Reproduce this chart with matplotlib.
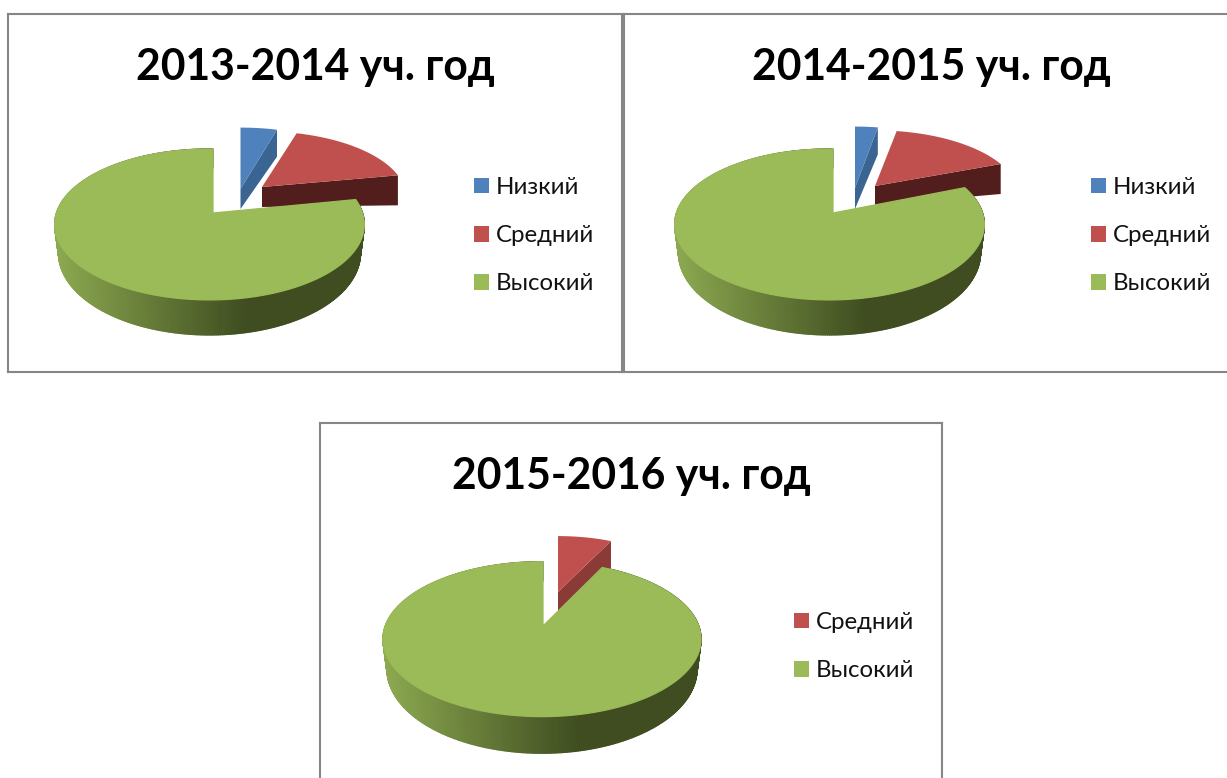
import numpy as np
import matplotlib
matplotlib.use("Agg")
import matplotlib.pyplot as plt
from matplotlib.patches import Polygon, Patch
from matplotlib.collections import PolyCollection
from matplotlib.colors import to_rgb

plt.rcParams['font.family'] = ['Lato', 'Open Sans', 'DejaVu Sans']

# ---------- data ----------
titles = ["2013-2014 уч. год", "2014-2015 уч. год", "2015-2016 уч. год"]
labels_2013 = ["Низкий", "Средний", "Высокий"]
values_2013 = [4.5, 17.5, 78.0]
labels_2014 = ["Низкий", "Средний", "Высокий"]
values_2014 = [2.8, 16.3, 80.9]
labels_2015 = ["Средний", "Высокий"]
values_2015 = [7.3, 92.7]

# ---------- style ----------
COLORS = {"Низкий": "#4f81bd", "Средний": "#c0504d", "Высокий": "#9bbb59"}
FACE = {"Низкий": "#3a6593", "Средний": "#521e1d", "Высокий": "#6b8a3b"}
FRAME = "#868686"
WALL_L = np.array(to_rgb("#8ca950"))
WALL_D = np.array(to_rgb("#3f4d20"))
W, H = 1227, 778

# panel box (left, top, right, bottom) in pixels; geometry of each exploded slice
panels = [
    dict(box=(8, 14, 622, 372), title=titles[0], labels=labels_2013, values=values_2013,
         R=153, Rq=73.7, k=0.152, h0=27, h1=8, shift=-3.5,
         apex={"Низкий": (240.5, 189), "Средний": (262, 187), "Высокий": (213, 213)},
         face={"Низкий": (20, 27), "Средний": (20, 30)},
         scale={"Низкий": (0.98, 0.96), "Средний": (0.93, 0.87), "Высокий": (1, 1)},
         legend=(474, 186)),
    dict(box=(624, 14, 1238, 372), title=titles[1], labels=labels_2014, values=values_2014,
         R=153, Rq=73.7, k=0.152, h0=27, h1=8, shift=-3.5,
         apex={"Низкий": (855, 188), "Средний": (875, 186), "Высокий": (833, 213)},
         face={"Низкий": (21, 27), "Средний": (19, 30)},
         scale={"Низкий": (0.98, 0.96), "Средний": (0.93, 0.87), "Высокий": (1, 1)},
         legend=(1091, 186)),
    dict(box=(320, 423, 942, 781), title=titles[2], labels=labels_2015, values=values_2015,
         R=156.7, Rq=75.2, k=0.17, h0=28, h1=8.6, shift=-1.0,
         apex={"Средний": (558, 592), "Высокий": (543, 626)},
         face={"Средний": (19, 27)},
         scale={"Средний": (0.88, 0.87), "Высокий": (1, 1)},
         legend=(794, 621)),
]
FACE3 = "#8a3a37"


def rim(theta, apex, p, sx=1.0, sy=1.0, dx=0.0):
    t = np.radians(theta)
    u, v = np.sin(t), np.cos(t)
    d = 1 + p["k"] * v
    return apex[0] + dx + sx * p["R"] * u / d, apex[1] - sy * p["Rq"] * v / d


fig = plt.figure(figsize=(W / 100, H / 100), dpi=100, facecolor="white")

for idx, p in enumerate(panels):
    l, t, r, b = p["box"]
    ax = fig.add_axes([l / W, 1 - b / H, (r - l) / W, (b - t) / H])
    ax.set_xlim(l, r)
    ax.set_ylim(b, t)
    ax.set_xticks([])
    ax.set_yticks([])
    for s in ax.spines.values():
        s.set_color(FRAME)
        s.set_linewidth(1.5)
    ax.set_title(p["title"], fontsize=30.7, fontweight="bold", y=1 - 61 / 358,
                 va="center", color="black")

    total = sum(p["values"])
    edges = np.concatenate([[0], np.cumsum(p["values"])]) / total * 360
    handles = []
    for name, v0, v1 in zip(p["labels"], edges[:-1], edges[1:]):
        col = COLORS[name]
        handles.append(Patch(facecolor=col, edgecolor="none", label=name))
        apex = p["apex"][name]
        sx, sy = p["scale"][name]
        if name == "Высокий":
            # the last slice ends straight above its apex on the shifted rim
            over = np.degrees(np.arcsin(-p["shift"] * (1 + p["k"]) / p["R"]))
            th = np.linspace(v0, v1 + over, 480)
            x, y = rim(th, apex, p, dx=p["shift"])
            c = np.cos(np.radians(th))
            xb, _ = rim(th, apex, p, sx=0.975, dx=p["shift"])
            yb = y + p["h0"] - p["h1"] * c
            quads, cols = [], []
            xmin, xmax = x.min(), x.max()
            for i in range(len(th) - 1):
                quads.append([(x[i], y[i]), (x[i + 1], y[i + 1]),
                              (xb[i + 1], yb[i + 1]), (xb[i], yb[i])])
                f = min(((x[i] - xmin) / (xmax - xmin)) / 0.62, 1.0)
                cols.append(tuple(WALL_L + (WALL_D - WALL_L) * f))
            ax.add_collection(PolyCollection(quads, facecolors=cols, edgecolors=cols,
                                             linewidths=1.0, zorder=3))
            zt, edge, lw = 4, col, 0.9
        else:
            th = np.linspace(v0, v1, 240)
            x, y = rim(th, apex, p, sx=sx, sy=sy)
            h_a, h_r = p["face"][name]
            fc = FACE3 if idx == 2 else FACE[name]
            ax.add_patch(Polygon([apex, (x[-1], y[-1]), (x[-1], y[-1] + h_r),
                                  (apex[0], apex[1] + h_a)],
                                 closed=True, facecolor=fc, edgecolor="none", zorder=2))
            zt, edge, lw = 2.5, "none", 0
        ax.add_patch(Polygon(np.column_stack([np.r_[apex[0], x], np.r_[apex[1], y]]),
                             closed=True, facecolor=col, edgecolor=edge, linewidth=lw, zorder=zt))

    lx, ly = p["legend"]
    leg = ax.legend(handles=handles, loc="upper left", bbox_to_anchor=(lx, ly - 9),
                    bbox_transform=ax.transData, frameon=False, fontsize=17.3,
                    borderpad=0, borderaxespad=0, handlelength=0.63, handleheight=0.63,
                    handletextpad=0.27, labelspacing=1.13)
    for txt in leg.get_texts():
        txt.set_color("#111111")

fig.savefig("out.png", dpi=100, facecolor="white")
